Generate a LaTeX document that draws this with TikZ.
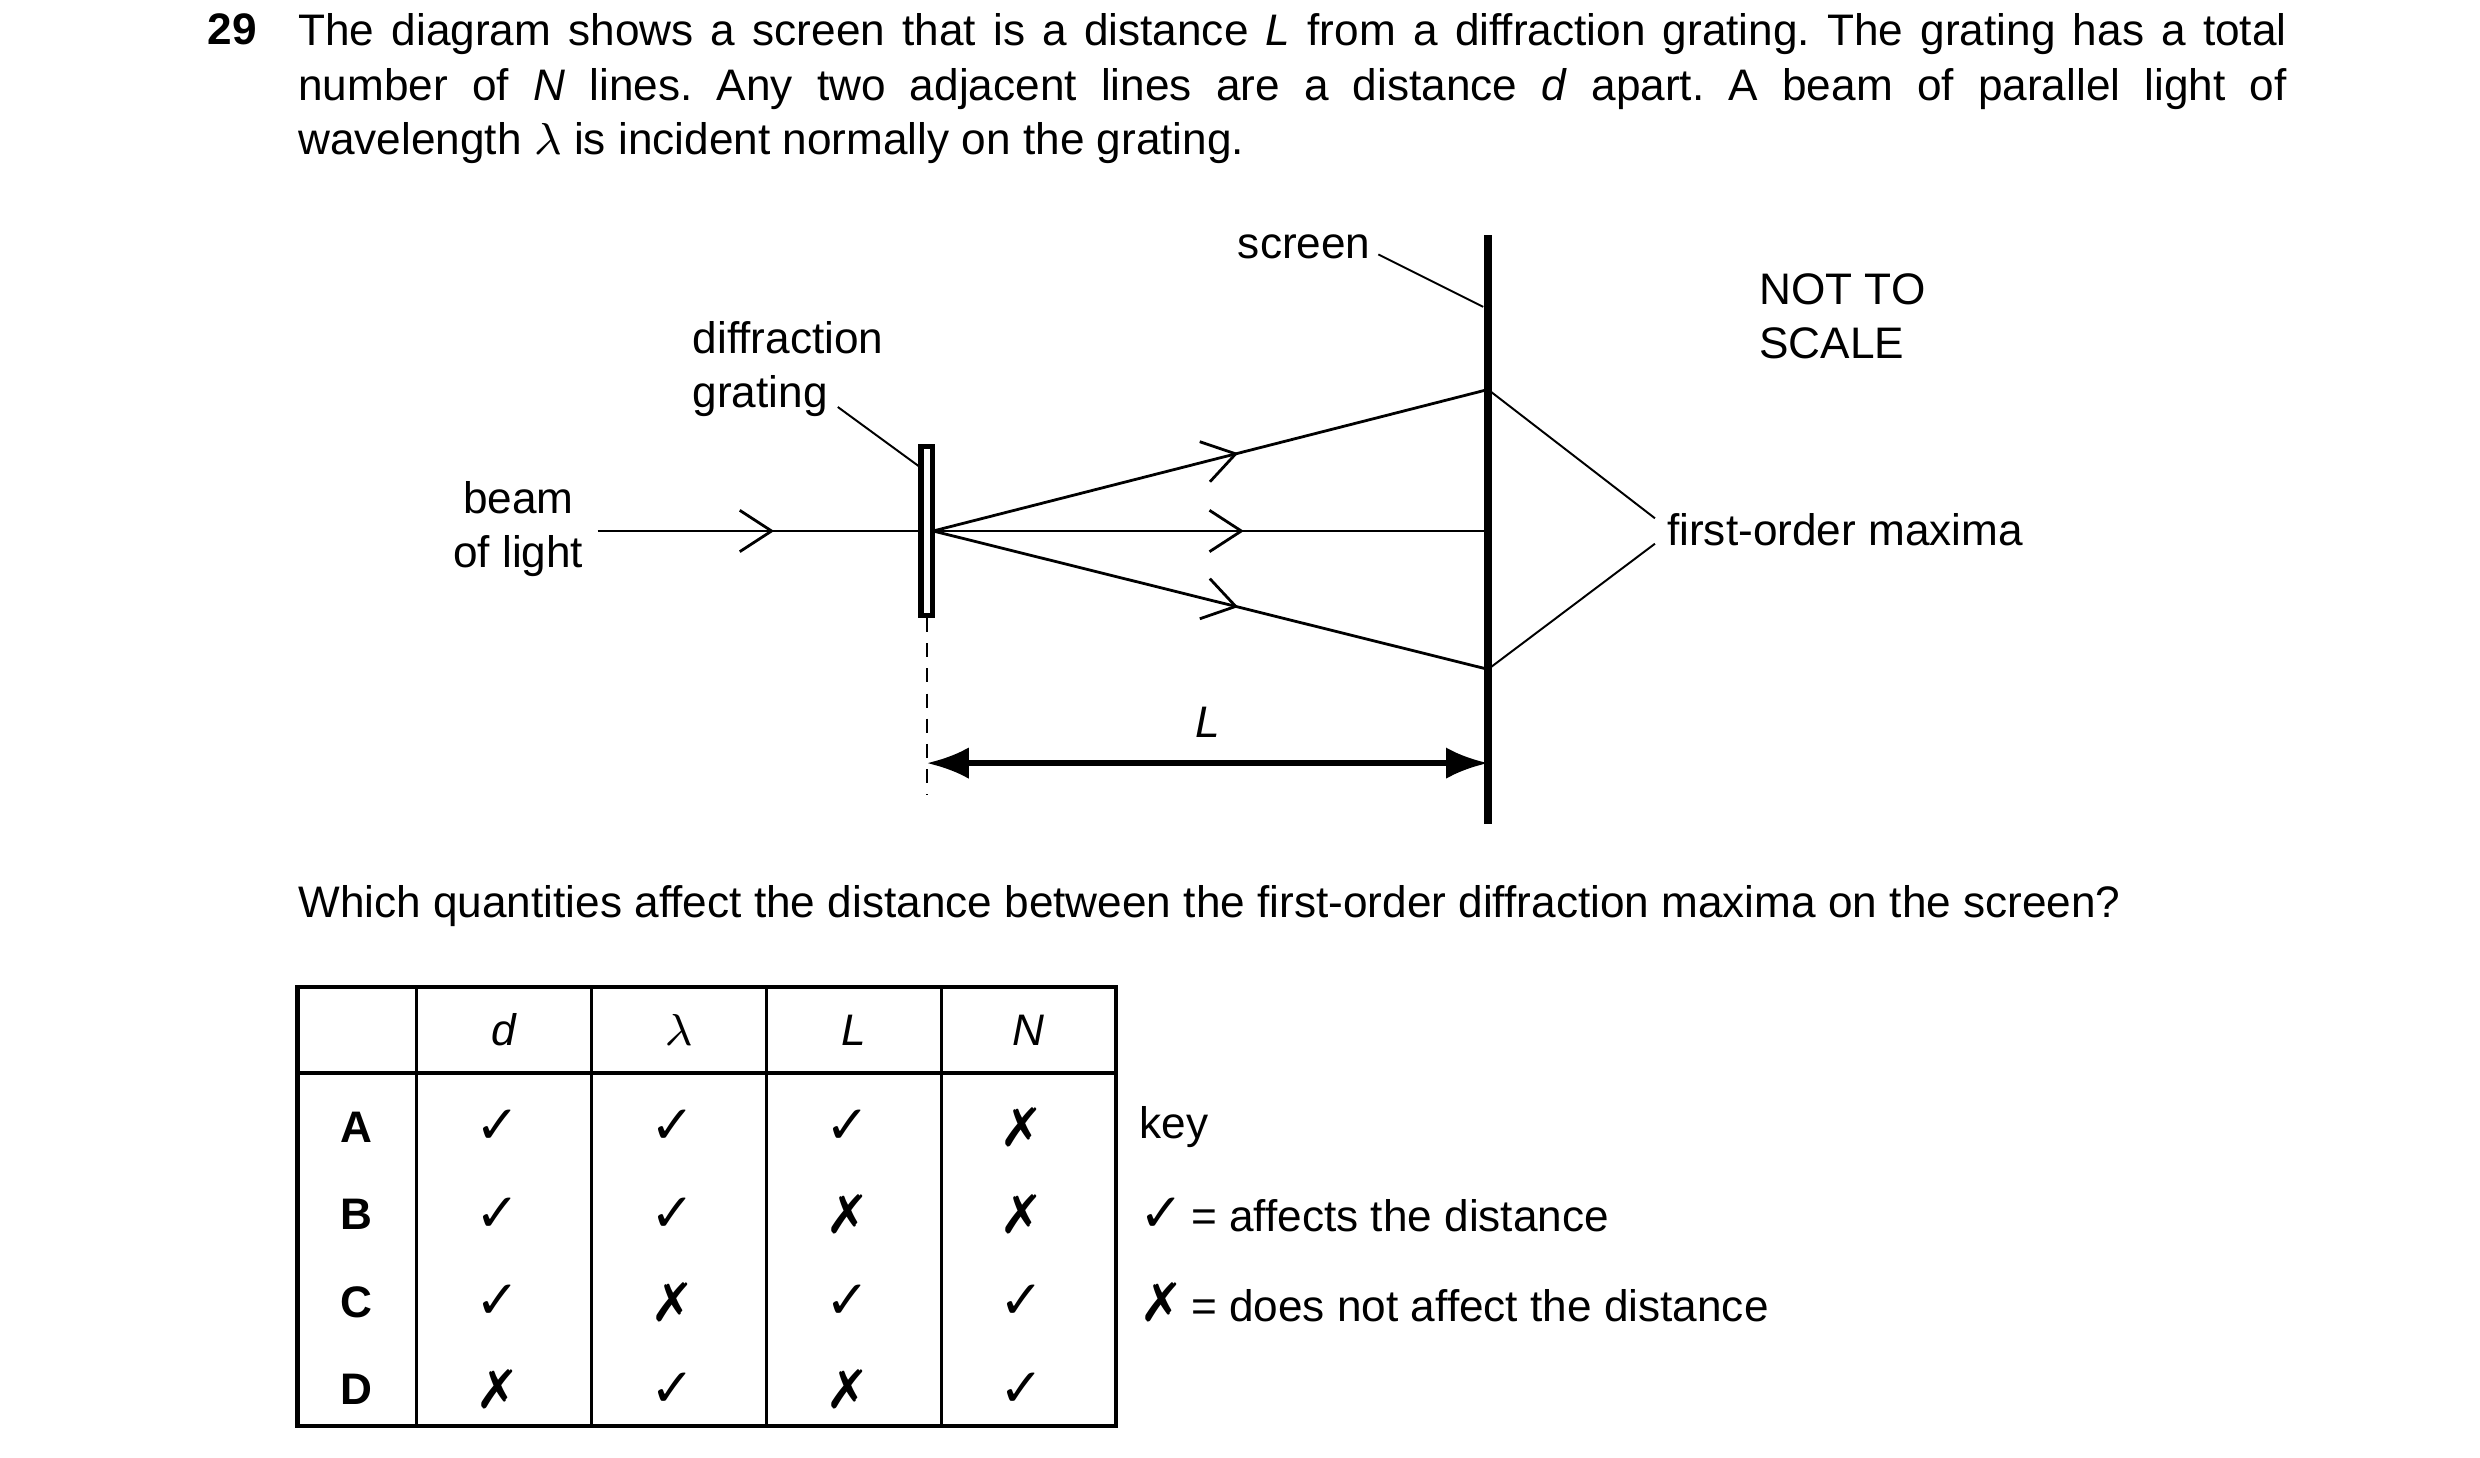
\documentclass[tikz,border=0pt]{standalone}
\usepackage{fontspec}
\setmainfont{Liberation Sans}
\newfontfamily\symb{DejaVu Sans}
\usetikzlibrary{arrows.meta, positioning, decorations.markings}
\newcommand*{\yes}{{\symb\fontsize{9.5}{10}\selectfont ✓}}
\newcommand*{\no}{{\symb\fontsize{9.5}{10}\selectfont ✗}}
\tikzset{
  txt/.style={font=\fontsize{7.9}{9.7}\selectfont, inner sep=0pt},
  ray/.style={line width=0.5pt, postaction={decorate},
    decoration={markings, mark=at position #1 with {\arrow{Straight Barb[length=2mm, width=2.6mm, line width=0.5pt]}}}},
  leader/.style={line width=0.35pt},
  cell/.style={txt, anchor=center}
}
\frenchspacing
\begin{document}
\begin{tikzpicture}[x=0.01cm, y=-0.01cm]
    \useasboundingbox (0,0) rectangle (1560,917);

    % Question text.
    \node (num) [txt, anchor=north west, font=\fontsize{7.9}{9.7}\selectfont\bfseries] at (130,8) {29};
    \node (intro) [txt, anchor=north west, text width=12.5cm, align=justify] at (187,8)
      {The diagram shows a screen that is a distance \textit{L} from a diffraction grating. The grating has a total\linebreak number of \textit{N} lines. Any two adjacent lines are a distance \textit{d} apart. A beam of parallel light of\linebreak wavelength $\lambda$ is incident normally on the grating.};

    % Screen and grating.
    \coordinate (scrtop) at (936,148);
    \coordinate (scrbot) at (936,518);
    \draw [line width=1.3pt] (scrtop) -- (scrbot);
    \node (grating) [draw, line width=1pt, minimum width=0.07cm, minimum height=1.06cm, inner sep=0pt] at (583,334) {};
    \draw [line width=0.35pt, dash pattern=on 2.5pt off 2pt] (grating.south) -- (583,500);

    \coordinate (src) at (376,334);
    \coordinate (hit) at (587,334);
    \coordinate (max1) at (936,245);
    \coordinate (max0) at (936,334);
    \coordinate (max2) at (936,421);

    % Rays.
    \draw [ray=0.55] (src) -- (grating.west);
    \draw [ray=0.55] (hit) -- (max1);
    \draw [ray=0.56] (hit) -- (max0);
    \draw [ray=0.55] (hit) -- (max2);

    % Distance L.
    \draw [line width=1pt, Latex-Latex] (583,480) -- node [txt, above=4pt] {\textit{L}} (936,480);

    % Labels.
    \node (beam) [txt, align=center] at (326,333) {beam\\of light};
    \node (dg) [txt, align=left, anchor=west] at (435,232) {diffraction\\grating};
    \draw [leader] (527,256) -- (579,294);
    \node (scr) [txt, anchor=west] at (778,155) {screen};
    \draw [leader] (867,160) -- (933,193);
    \node (nts) [txt, align=left, anchor=west] at (1106,199) {NOT TO\\SCALE};
    \node (fom) [txt, anchor=west] at (1048,333) {first-order maxima};
    \draw [leader] (max1) -- (1041,326);
    \draw [leader] (max2) -- (1041,342);

    \node (ask) [txt, anchor=west] at (187,570) {Which quantities affect the distance between the first-order diffraction maxima on the screen?};

    % Table.
    \draw [line width=0.8pt] (187,621) rectangle (702,897);
    \draw [line width=0.8pt] (187,675) -- (702,675);
    \foreach \x in {262,372,482,592} {
        \draw [line width=0.5pt] (\x,621) -- (\x,897);
    }
    \foreach \h/\x in {\textit{d}/317, $\lambda$/427, \textit{L}/537, \textit{N}/647} {
        \node [cell] at (\x,648) {\h};
    }
    \foreach \r/\y/\a/\b/\c/\e in {A/709/\yes/\yes/\yes/\no, B/764/\yes/\yes/\no/\no,
                                  C/819/\yes/\no/\yes/\yes, D/874/\no/\yes/\no/\yes} {
        \node [cell, font=\fontsize{7.9}{9.7}\selectfont\bfseries] at (224,\y) {\r};
        \node [cell] at (313,\y) {\a};
        \node [cell] at (423,\y) {\b};
        \node [cell] at (533,\y) {\c};
        \node [cell] at (643,\y) {\e};
    }

    % Key.
    \node (key) [txt, anchor=west] at (716,709) {key};
    \node (keyyes) [txt, anchor=west] at (716,764) {\yes\,= affects the distance};
    \node (keyno) [txt, anchor=west] at (716,819) {\no\,= does not affect the distance};
\end{tikzpicture}
\end{document}
